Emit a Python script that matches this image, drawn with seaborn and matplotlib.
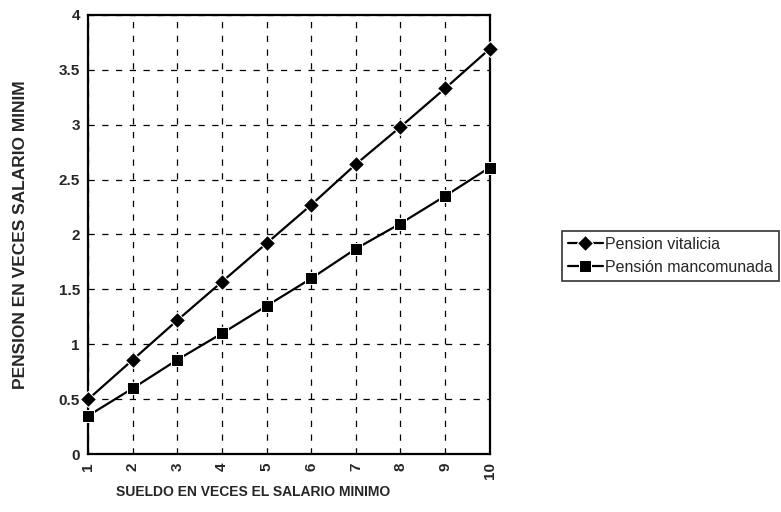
import numpy as np
import pandas as pd
import matplotlib
matplotlib.use("Agg")
import matplotlib.pyplot as plt
import seaborn as sns

# data
sueldo = [1, 2, 3, 4, 5, 6, 7, 8, 9, 10]
vitalicia = [0.50, 0.86, 1.22, 1.57, 1.92, 2.27, 2.64, 2.98, 3.33, 3.69]
mancomunada = [0.35, 0.60, 0.86, 1.10, 1.35, 1.60, 1.87, 2.10, 2.35, 2.61]
series_names = ["Pension vitalicia", "Pensión mancomunada"]

df = pd.concat([
    pd.DataFrame({"x": sueldo, "y": vitalicia, "serie": series_names[0]}),
    pd.DataFrame({"x": sueldo, "y": mancomunada, "serie": series_names[1]}),
])

sns.set_style("white")
plt.rcParams["font.family"] = ["Liberation Sans", "DejaVu Sans"]

fig = plt.figure(figsize=(7.81, 5.12), dpi=100)
ax = fig.add_axes([0.113, 0.113, 0.514, 0.858])

sns.lineplot(data=df, x="x", y="y", hue="serie", style="serie",
             markers={series_names[0]: "D", series_names[1]: "s"},
             dashes=False, palette=["black", "black"], markersize=8,
             linewidth=1.6, ax=ax, legend=True)
for ln in ax.lines:
    ln.set_clip_on(False)
    ln.set_zorder(5)

ax.set_xlim(1, 10)
ax.set_ylim(0, 4)
ax.set_xticks(sueldo)
ax.set_xticklabels([str(v) for v in sueldo], rotation=90, fontsize=11, fontweight="bold")
ax.set_yticks(np.arange(0, 4.01, 0.5))
ax.set_yticklabels(["0", "0.5", "1", "1.5", "2", "2.5", "3", "3.5", "4"], fontsize=11, fontweight="bold")
ax.tick_params(direction="inout", length=6, width=1.2, color="black", pad=3)
ax.grid(True, color="black", linestyle=(0, (5, 6)), linewidth=0.9)
for s in ax.spines.values():
    s.set_color("black")
    s.set_linewidth(1.6)

ax.set_xlabel("SUELDO EN VECES EL SALARIO MINIMO", fontsize=10, fontweight="bold")
ax.xaxis.set_label_coords(0.41, -0.07)
ax.set_ylabel("PENSION EN VECES SALARIO MINIM", fontsize=12.5, fontweight="bold", labelpad=22)

h, l = ax.get_legend_handles_labels()
ax.legend(h, l, loc="center left", bbox_to_anchor=(0.719, 0.5),
          bbox_transform=fig.transFigure, frameon=True, fancybox=False,
          edgecolor="black", fontsize=11.5, handlelength=2.2, handletextpad=0.1,
          borderpad=0.4, labelspacing=0.5, borderaxespad=0)
ax.get_legend().get_frame().set_linewidth(1.2)

fig.savefig("out.png", dpi=100)
